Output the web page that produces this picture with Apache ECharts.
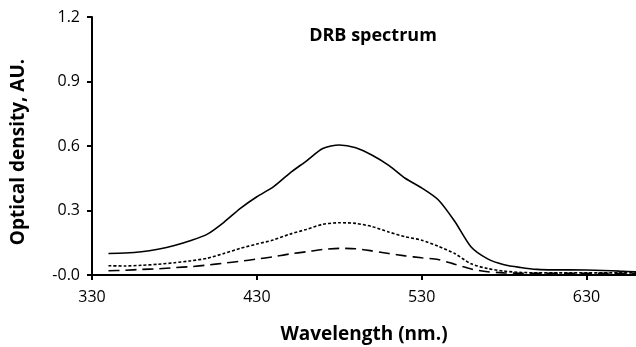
<!DOCTYPE html>
<html><head><meta charset="utf-8">
<script src="https://cdn.jsdelivr.net/npm/echarts@6/dist/echarts.min.js"></script>
<style>html,body{margin:0;padding:0;background:#fff}#c{width:636px;height:347px}</style>
</head><body><div id="c"></div>
<script>
const wavelengths = [340,350,360,370,380,390,400,410,420,430,440,450,460,470,480,490,500,510,520,530,540,550,560,570,580,590,600,610,620,630,640,650,660];
const solidSeries = [0.100,0.102,0.108,0.120,0.137,0.160,0.190,0.245,0.310,0.364,0.410,0.474,0.530,0.588,0.605,0.592,0.557,0.510,0.450,0.405,0.350,0.250,0.130,0.075,0.048,0.035,0.026,0.024,0.024,0.023,0.021,0.018,0.015];
const shortDashSeries = [0.043,0.042,0.045,0.050,0.057,0.066,0.078,0.100,0.124,0.144,0.163,0.190,0.212,0.236,0.243,0.240,0.225,0.200,0.178,0.162,0.134,0.100,0.052,0.030,0.018,0.012,0.010,0.010,0.010,0.010,0.010,0.010,0.010];
const longDashSeries = [0.020,0.022,0.026,0.029,0.034,0.039,0.046,0.055,0.064,0.074,0.085,0.098,0.108,0.119,0.124,0.122,0.112,0.100,0.089,0.080,0.072,0.050,0.028,0.015,0.010,0.008,0.008,0.008,0.008,0.008,0.008,0.008,0.008];
const xTickValues = [330,430,530,630];
const yTickValues = [0,0.3,0.6,0.9,1.2];

const FONT = 'Open Sans';
const pairs = arr => wavelengths.map((w,i)=>[w,arr[i]]);
const chart = echarts.init(document.getElementById('c'));
chart.setOption({
  animation:false,
  backgroundColor:'#fff',
  title:{text:'DRB spectrum',left:368,top:22,textAlign:'center',
    textStyle:{fontFamily:FONT,fontSize:18,fontWeight:'bold',color:'#000'}},
  grid:{left:92,right:0,top:17,bottom:72,containLabel:false,outerBoundsMode:'none'},
  xAxis:{type:'value',min:330,max:660,
    name:'Wavelength (nm.)',nameLocation:'middle',nameGap:50,
    nameTextStyle:{fontFamily:FONT,fontSize:19,fontWeight:'bold',color:'#000'},
    axisLine:{lineStyle:{color:'#000',width:2}},
    axisTick:{show:true,length:5,lineStyle:{color:'#000',width:2},customValues:xTickValues},
    axisLabel:{fontFamily:FONT,fontSize:16,color:'#000',margin:14,customValues:xTickValues},
    splitLine:{show:false}},
  yAxis:{type:'value',min:0,max:1.2,interval:0.3,
    name:'Optical density, AU.',nameLocation:'middle',nameGap:64,
    nameTextStyle:{fontFamily:FONT,fontSize:19,fontWeight:'bold',color:'#000',padding:[0,12,0,0]},
    axisLine:{show:true,lineStyle:{color:'#000',width:2}},
    axisTick:{show:true,length:5,lineStyle:{color:'#000',width:2}},
    axisLabel:{fontFamily:FONT,fontSize:16,color:'#000',margin:12,
      formatter:v=>v===0?'-0.0':v.toFixed(1)},
    splitLine:{show:false}},
  series:[
    {type:'line',data:pairs(solidSeries),smooth:0.25,symbol:'none',lineStyle:{color:'#000',width:1.6,type:'solid'}},
    {type:'line',data:pairs(shortDashSeries),smooth:0.25,symbol:'none',lineStyle:{color:'#000',width:1.6,type:[3,2]}},
    {type:'line',data:pairs(longDashSeries),smooth:0.25,symbol:'none',lineStyle:{color:'#000',width:1.6,type:[11,6]}}
  ]
});
</script></body></html>
